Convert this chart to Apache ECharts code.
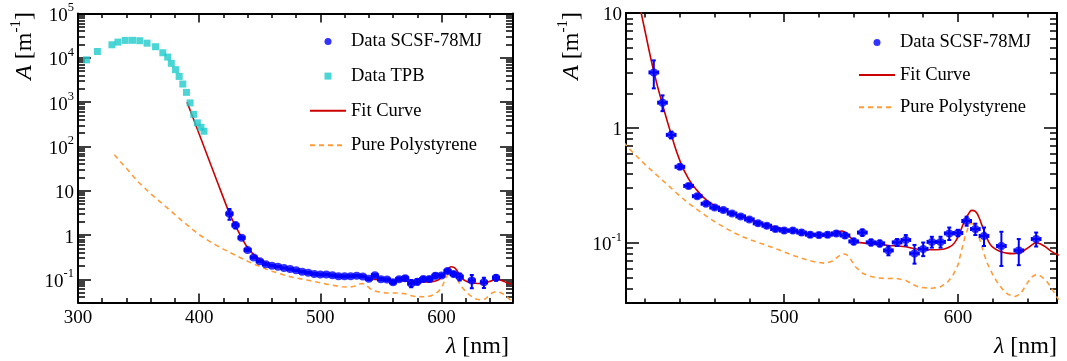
<!DOCTYPE html>
<html><head><meta charset="utf-8">
<script src="https://cdn.jsdelivr.net/npm/echarts@6/dist/echarts.min.js"></script>
<style>html,body{margin:0;padding:0;background:#fff}#c{width:1067px;height:361px}</style>
</head><body><div id="c"></div>
<script>
// ---------------- data ----------------
const tpbWl = [307, 316, 328, 333, 339, 345, 351, 357, 364, 370, 374, 377, 380.5, 383.5, 386.5, 389.5, 392.5, 395.5, 398.5, 401.5, 404];
const tpbA  = [9000, 13900, 19700, 22600, 24700, 24800, 24300, 21400, 17800, 13000, 10400, 7500, 5400, 3800, 2560, 1660, 960, 530, 340, 270, 220];

const scsfWl  = [425, 430, 435, 440, 445, 450, 455, 460, 465, 470, 475, 480, 485, 490, 495, 500, 505, 510, 515, 520, 525, 530, 535, 540, 545, 550, 555, 560, 565, 570, 575, 580, 585, 590, 595, 600, 605, 610, 615, 625, 635, 645];
const scsfA   = [3.04, 1.66, 0.87, 0.459, 0.313, 0.255, 0.219, 0.203, 0.193, 0.180, 0.170, 0.160, 0.148, 0.141, 0.132, 0.128, 0.128, 0.123, 0.118, 0.117, 0.118, 0.121, 0.116, 0.103, 0.123, 0.101, 0.099, 0.086, 0.101, 0.106, 0.081, 0.0887, 0.102, 0.102, 0.121, 0.122, 0.155, 0.132, 0.115, 0.094, 0.086, 0.108];
const scsfErr = [0.83, 0.26, 0.06, 0.02, 0.012, 0.009, 0.007, 0.006, 0.006, 0.005, 0.005, 0.005, 0.005, 0.005, 0.005, 0.005, 0.005, 0.005, 0.005, 0.005, 0.005, 0.005, 0.005, 0.006, 0.008, 0.006, 0.006, 0.008, 0.007, 0.011, 0.015, 0.012, 0.011, 0.011, 0.015, 0.008, 0.014, 0.015, 0.021, 0.031, 0.022, 0.015];
const scsfWlErr = [2.5];

const fitWl = [390, 395, 400, 405, 410, 415, 420, 425, 430, 435, 440, 445, 450, 455, 460, 465, 470, 475, 480, 485, 490, 495, 500, 505, 510, 515, 520, 525, 528, 531, 533, 535, 538, 541, 545, 550, 555, 560, 565, 570, 575, 580, 585, 590, 595, 598, 601, 604, 606, 608, 610, 612, 614, 616, 618, 620, 624, 628, 632, 636, 640, 643, 645, 648, 651, 654, 658];
const fitA  = [1000, 437, 190, 83, 36, 15.8, 6.9, 3.1, 1.6, 0.88, 0.52, 0.36, 0.285, 0.238, 0.212, 0.196, 0.182, 0.171, 0.161, 0.151, 0.143, 0.137, 0.132, 0.127, 0.123, 0.120, 0.117, 0.116, 0.118, 0.124, 0.127, 0.124, 0.112, 0.103, 0.100, 0.0988, 0.097, 0.095, 0.094, 0.0925, 0.089, 0.0875, 0.0872, 0.0875, 0.092, 0.100, 0.122, 0.158, 0.178, 0.192, 0.188, 0.168, 0.140, 0.118, 0.100, 0.092, 0.0846, 0.0815, 0.0807, 0.083, 0.090, 0.097, 0.100, 0.097, 0.091, 0.084, 0.078];

const psWl = [330, 335, 340, 345, 350, 355, 360, 365, 370, 375, 380, 385, 390, 395, 400, 405, 410, 415, 420, 425, 430, 435, 440, 445, 450, 455, 460, 465, 470, 475, 480, 485, 490, 497, 505, 512, 518, 524, 528, 531, 534, 536, 538, 541, 545, 549, 554, 559, 564, 570, 574, 578, 585, 590, 594, 597, 600, 602, 604, 606, 607.5, 609, 611, 613, 615, 617, 620, 623, 626, 629, 633, 636, 639, 642, 645, 648, 651, 654, 658];
const psA  = [65, 45, 32, 22, 15.5, 11.5, 8.5, 6.5, 5.0, 3.8, 2.9, 2.2, 1.7, 1.3, 1.02, 0.83, 0.68, 0.57, 0.48, 0.41, 0.35, 0.30, 0.255, 0.221, 0.195, 0.172, 0.153, 0.138, 0.125, 0.115, 0.107, 0.101, 0.095, 0.087, 0.078, 0.072, 0.068, 0.0665, 0.0695, 0.076, 0.0805, 0.079, 0.073, 0.062, 0.0545, 0.0515, 0.0495, 0.049, 0.0492, 0.0472, 0.0435, 0.041, 0.0403, 0.0415, 0.0455, 0.052, 0.064, 0.085, 0.112, 0.138, 0.148, 0.145, 0.126, 0.102, 0.080, 0.066, 0.053, 0.0445, 0.039, 0.0355, 0.0342, 0.036, 0.0425, 0.050, 0.0532, 0.051, 0.0465, 0.040, 0.032];

const leftXTicks = [300, 400, 500, 600];
const rightXTicks = [500, 600];
const leftYTicks = [0.1, 1, 10, 100, 1000, 10000, 100000];
const leftYTickLabels = ['10^-1', '1', '10', '10^2', '10^3', '10^4', '10^5'];
const rightYTicks = [0.1, 1, 10];
const rightYTickLabels = ['10^-1', '1', '10'];

const legendLeft = ['Data SCSF-78MJ', 'Data TPB', 'Fit Curve', 'Pure Polystyrene'];
const legendRight = ['Data SCSF-78MJ', 'Fit Curve', 'Pure Polystyrene'];

// ---------------- styling ----------------
const FONT = 'Liberation Serif';
const BLUE = '#0000ff', CYAN = '#1ecaca', RED = '#cc0000', ORANGE = '#ff9c38';

function minorX(min, max) {
  const out = [];
  for (let v = Math.ceil(min / 20) * 20; v <= max; v += 20) if (v % 100 !== 0) out.push(v);
  return out;
}
function minorLog(min, max) {
  const out = [];
  for (let d = -3; d <= 6; d++) for (let k = 2; k <= 9; k++) {
    const v = Number((k * Math.pow(10, d)).toPrecision(3));
    if (v >= min && v <= max) out.push(v);
  }
  return out;
}
function richLabel(txt) {
  const p = txt.split('^');
  return p.length > 1 ? '{b|' + p[0] + '}{s|' + p[1] + '}' : '{b|' + p[0] + '}';
}
const labelRich = {
  b: { fontFamily: FONT, fontSize: 19, color: '#000', lineHeight: 24, verticalAlign: 'bottom' },
  s: { fontFamily: FONT, fontSize: 12.5, color: '#000', lineHeight: 13, verticalAlign: 'top' }
};
const axLine = { show: true, onZero: false, lineStyle: { color: '#000', width: 2 } };
const tickStyle = { color: '#000', width: 1.5 };

function xAxes(gi, min, max, major) {
  const minor = minorX(min, max);
  const base = { type: 'value', gridIndex: gi, min, max, splitLine: { show: false }, axisLabel: { show: false } };
  return [
    Object.assign({}, base, { position: 'bottom', axisLine: axLine,
      axisTick: { show: true, inside: true, length: 9, customValues: major, lineStyle: tickStyle },
      axisLabel: { show: true, customValues: major, margin: 6, color: '#000', fontFamily: FONT, fontSize: 19 } }),
    Object.assign({}, base, { position: 'bottom', axisLine: { show: false },
      axisTick: { show: true, inside: true, length: 4.5, customValues: minor, lineStyle: tickStyle } }),
    Object.assign({}, base, { position: 'top', axisLine: axLine,
      axisTick: { show: true, inside: true, length: 9, customValues: major, lineStyle: tickStyle } }),
    Object.assign({}, base, { position: 'top', axisLine: { show: false },
      axisTick: { show: true, inside: true, length: 4.5, customValues: minor, lineStyle: tickStyle } })
  ];
}
function yAxes(gi, min, max, major, labels) {
  const minor = minorLog(min, max);
  const base = { type: 'log', logBase: 10, gridIndex: gi, min, max, splitLine: { show: false }, axisLabel: { show: false } };
  return [
    Object.assign({}, base, { position: 'left', axisLine: axLine,
      axisTick: { show: true, inside: true, length: 13, customValues: major, lineStyle: tickStyle },
      axisLabel: { show: true, customValues: major, margin: 4, rich: labelRich,
        formatter: v => { let i = major.findIndex(m => Math.abs(m - v) / m < 1e-6); return richLabel(i >= 0 ? labels[i] : ''); } } }),
    Object.assign({}, base, { position: 'left', axisLine: { show: false },
      axisTick: { show: true, inside: true, length: 7, customValues: minor, lineStyle: tickStyle } }),
    Object.assign({}, base, { position: 'right', axisLine: axLine,
      axisTick: { show: true, inside: true, length: 13, customValues: major, lineStyle: tickStyle } }),
    Object.assign({}, base, { position: 'right', axisLine: { show: false },
      axisTick: { show: true, inside: true, length: 7, customValues: minor, lineStyle: tickStyle } })
  ];
}

function errSeries(xi, yi) {
  return {
    type: 'custom', xAxisIndex: xi, yAxisIndex: yi, silent: true, z: 4, clip: true,
    data: scsfWl.map((w, i) => [w, scsfA[i], scsfA[i] - scsfErr[i], scsfA[i] + scsfErr[i]]),
    renderItem(params, api) {
      const x = api.value(0), y = api.value(1), lo = api.value(2), hi = api.value(3);
      const pLo = api.coord([x, lo]), pHi = api.coord([x, hi]);
      const pL = api.coord([x - scsfWlErr[0], y]), pR = api.coord([x + scsfWlErr[0], y]);
      const st = { stroke: BLUE, lineWidth: 2 };
      const c = 2;
      return { type: 'group', children: [
        { type: 'line', shape: { x1: pLo[0], y1: pLo[1], x2: pHi[0], y2: pHi[1] }, style: st },
        { type: 'line', shape: { x1: pLo[0] - c, y1: pLo[1], x2: pLo[0] + c, y2: pLo[1] }, style: st },
        { type: 'line', shape: { x1: pHi[0] - c, y1: pHi[1], x2: pHi[0] + c, y2: pHi[1] }, style: st },
        { type: 'line', shape: { x1: pL[0], y1: pL[1], x2: pR[0], y2: pR[1] }, style: st },
        { type: 'line', shape: { x1: pL[0], y1: pL[1] - c, x2: pL[0], y2: pL[1] + c }, style: st },
        { type: 'line', shape: { x1: pR[0], y1: pR[1] - c, x2: pR[0], y2: pR[1] + c }, style: st }
      ] };
    }
  };
}
function pairs(xs, ys) { return xs.map((x, i) => [x, ys[i]]); }

const series = [];
function panel(xi, yi, withTpb) {
  if (withTpb) series.push({ name: 'Data TPB', type: 'scatter', xAxisIndex: xi, yAxisIndex: yi, symbol: 'rect', symbolSize: 7,
    itemStyle: { color: CYAN }, data: pairs(tpbWl, tpbA), z: 3 });
  series.push({ name: 'Pure Polystyrene', type: 'line', xAxisIndex: xi, yAxisIndex: yi, symbol: 'none', smooth: false,
    lineStyle: { color: ORANGE, width: 1.6, type: [5, 4] }, itemStyle: { color: ORANGE }, data: pairs(psWl, psA), z: 2 });
  series.push({ name: 'Fit Curve', type: 'line', xAxisIndex: xi, yAxisIndex: yi, symbol: 'none', smooth: true,
    lineStyle: { color: RED, width: 1.6 }, itemStyle: { color: RED }, data: pairs(fitWl, fitA), z: 2 });
  series.push(errSeries(xi, yi));
  series.push({ name: 'Data SCSF-78MJ', type: 'scatter', xAxisIndex: xi, yAxisIndex: yi, symbol: 'circle', symbolSize: 8,
    itemStyle: { color: BLUE }, data: pairs(scsfWl, scsfA), z: 5 });
}
panel(0, 0, true);
panel(4, 4, false);

const legText = { fontFamily: FONT, fontSize: 18.5, color: '#000', lineHeight: 20 };
function legItems(names) {
  return names.map(n => {
    if (n === 'Data TPB') return { name: n, icon: 'path://M0,0L10,0L10,10L0,10Z' };
    if (n === 'Fit Curve' || n === 'Pure Polystyrene') return { name: n, itemStyle: { opacity: 0 } };
    return { name: n };
  });
}
const titleRich = {
  i: { fontFamily: FONT, fontSize: 24, fontStyle: 'italic', color: '#000', lineHeight: 28, verticalAlign: 'bottom' },
  n: { fontFamily: FONT, fontSize: 24, color: '#000', lineHeight: 28, verticalAlign: 'bottom' },
  s: { fontFamily: FONT, fontSize: 15, color: '#000', lineHeight: 15, verticalAlign: 'top' }
};
function yTitle(x) {
  return { type: 'text', x: x, y: 12, rotation: Math.PI / 2,
    style: { text: '{i|A}{n| [m}{s|-1}{n|]}', rich: titleRich, align: 'right', verticalAlign: 'middle' } };
}
function xTitle(x) {
  return { type: 'text', x: x, y: 345,
    style: { text: '{i|λ}{n| [nm]}', rich: titleRich, align: 'right', verticalAlign: 'middle' } };
}

const chart = echarts.init(document.getElementById('c'), null, { renderer: 'canvas' });
chart.setOption({
  animation: false,
  backgroundColor: '#fff',
  grid: [
    { left: 78, top: 13.5, width: 435, height: 289, outerBoundsMode: 'none' },
    { left: 626, top: 13, width: 431, height: 290, outerBoundsMode: 'none' }
  ],
  xAxis: [].concat(xAxes(0, 300, 659, leftXTicks), xAxes(1, 409, 657, rightXTicks)),
  yAxis: [].concat(yAxes(0, 0.03, 100000, leftYTicks, leftYTickLabels), yAxes(1, 0.03, 10, rightYTicks, rightYTickLabels)),
  legend: [
    { left: 309, top: 31.5, padding: 0, orient: 'vertical', itemWidth: 36, itemHeight: 7, itemGap: 14.6, selectedMode: false,
      data: legItems(legendLeft), textStyle: legText },
    { left: 858, top: 32.5, padding: 0, orient: 'vertical', itemWidth: 36, itemHeight: 7, itemGap: 12.4, selectedMode: false,
      data: legItems(legendRight), textStyle: legText }
  ],
  graphic: [yTitle(23), yTitle(570), xTitle(509), xTitle(1057)],
  series: series
});
</script></body></html>
